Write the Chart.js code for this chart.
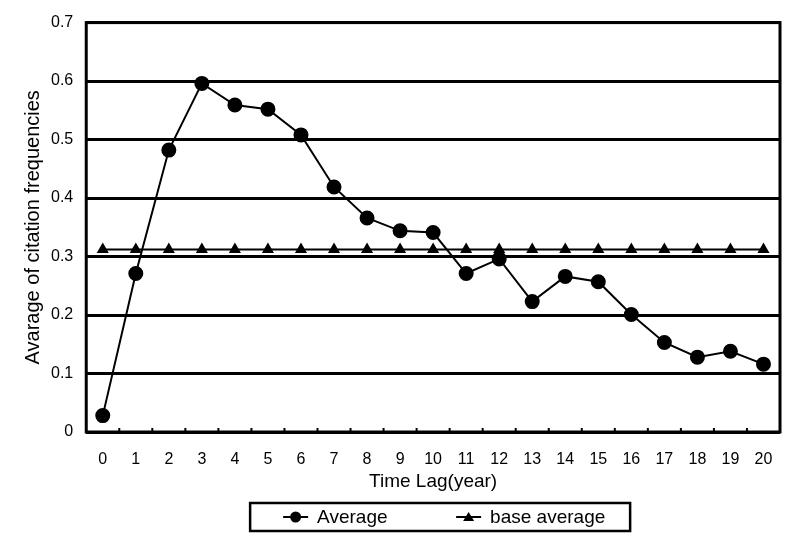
<!DOCTYPE html>
<html>
<head>
<meta charset="utf-8">
<script src="https://cdn.jsdelivr.net/npm/chart.js@4"></script>
<style>
  html, body { margin: 0; padding: 0; background: #fff; }
  #wrap { width: 799px; height: 547px; }
</style>
</head>
<body>
<div id="wrap"><canvas id="line-chart"></canvas></div>
<script>
const labels = ['0', '1', '2', '3', '4', '5', '6', '7', '8', '9', '10',
  '11', '12', '13', '14', '15', '16', '17', '18', '19', '20']

const average = [0.028, 0.271, 0.482, 0.596, 0.559, 0.552, 0.508, 0.419, 0.366, 0.344, 0.341,
  0.271, 0.296, 0.223, 0.266, 0.257, 0.201, 0.153, 0.128, 0.138, 0.116]

const baseAverage = [0.312, 0.312, 0.312, 0.312, 0.312, 0.312, 0.312, 0.312, 0.312, 0.312, 0.312,
  0.312, 0.312, 0.312, 0.312, 0.312, 0.312, 0.312, 0.312, 0.312, 0.312]

const yTicks = [0, 0.1, 0.2, 0.3, 0.4, 0.5, 0.6, 0.7]

const FONT = "'Liberation Sans', Arial, sans-serif"

// box round the plot, small inside ticks on the x axis, and the boxed legend
const frame = {
  id: 'frame',
  afterDraw(chart) {
    const ctx = chart.ctx
    const a = chart.chartArea
    const x = chart.scales.x
    ctx.save()
    ctx.strokeStyle = '#000'
    ctx.lineWidth = 3
    ctx.strokeRect(a.left, a.top, a.right - a.left, a.bottom - a.top)
    ctx.lineWidth = 2
    for (let i = 0; i < labels.length - 1; i++) {
      const px = (x.getPixelForValue(i) + x.getPixelForValue(i + 1)) / 2
      ctx.beginPath()
      ctx.moveTo(px, a.bottom)
      ctx.lineTo(px, a.bottom - 4)
      ctx.stroke()
    }

    // legend
    const cx = (a.left + a.right) / 2 + 7
    const top = 503, h = 28, w = 380
    ctx.lineWidth = 2.5
    ctx.strokeRect(cx - w / 2, top, w, h)
    const my = top + h / 2
    ctx.font = '19px ' + FONT
    ctx.fillStyle = '#000'
    ctx.textBaseline = 'middle'
    chart.data.datasets.forEach((ds, i) => {
      const x0 = cx - w / 2 + 33 + i * 173
      ctx.lineWidth = 2
      ctx.beginPath()
      ctx.moveTo(x0, my)
      ctx.lineTo(x0 + 25, my)
      ctx.stroke()
      ctx.beginPath()
      if (ds.pointStyle === 'triangle') {
        ctx.moveTo(x0 + 12.5, my - 5)
        ctx.lineTo(x0 + 18, my + 4)
        ctx.lineTo(x0 + 7, my + 4)
        ctx.closePath()
      } else {
        ctx.arc(x0 + 12.5, my, 5.5, 0, Math.PI * 2)
      }
      ctx.fill()
      ctx.fillText(ds.label, x0 + 34, my + 1)
    })
    ctx.restore()
  }
}

const data = {
  labels: labels,
  datasets: [
    {
      label: 'Average',
      data: average,
      borderColor: '#000',
      backgroundColor: '#000',
      borderWidth: 2,
      pointStyle: 'circle',
      pointRadius: 6.5,
      tension: 0,
    },
    {
      label: 'base average',
      data: baseAverage,
      borderColor: '#000',
      backgroundColor: '#000',
      borderWidth: 2,
      pointStyle: 'triangle',
      pointRadius: 5,
      tension: 0,
    },
  ],
}

const config = {
  type: 'line',
  data: data,
  options: {
    responsive: false,
    animation: false,
    layout: { padding: { top: 7, right: 19, bottom: 54, left: 21 } },
    plugins: {
      legend: { display: false },
      tooltip: { enabled: false },
    },
    scales: {
      x: {
        offset: true,
        grid: { display: true, drawOnChartArea: false, drawTicks: false, tickLength: 0, color: 'rgba(0,0,0,0)' },
        border: { display: false },
        ticks: { color: '#000', font: { family: FONT, size: 16 }, padding: 18, maxRotation: 0 },
        title: {
          display: true,
          text: 'Time Lag(year)',
          color: '#000',
          font: { family: FONT, size: 19 },
          padding: { top: -17, bottom: 0 },
        },
      },
      y: {
        min: 0,
        max: 0.7,
        afterBuildTicks(axis) {
          axis.ticks = yTicks.map(v => ({ value: v }))
        },
        grid: { color: '#000', lineWidth: 3, drawTicks: false },
        border: { display: false },
        ticks: { color: '#000', font: { family: FONT, size: 16 }, padding: 13 },
        title: {
          display: true,
          text: 'Avarage of citation frequencies',
          color: '#000',
          font: { family: FONT, size: 20 },
          padding: { top: 0, bottom: -7 },
        },
      },
    },
  },
  plugins: [frame],
}

const canvas = document.getElementById('line-chart')
canvas.width = 799
canvas.height = 547
const chart = new Chart(canvas, config)
</script>
</body>
</html>
